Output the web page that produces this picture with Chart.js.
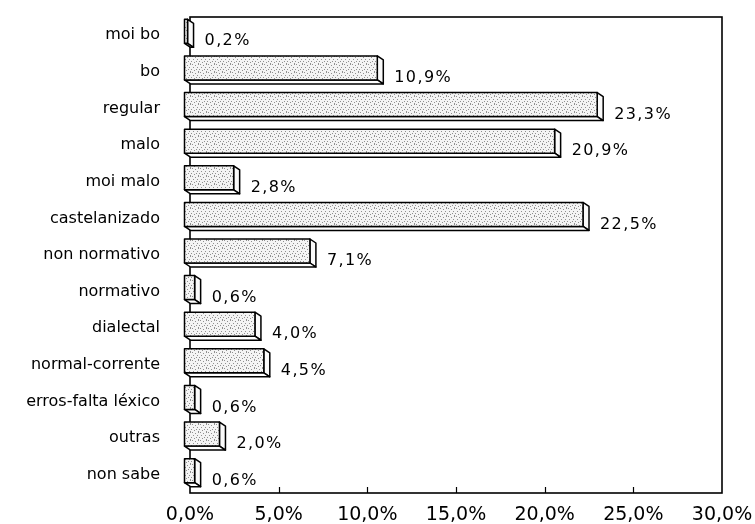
<!DOCTYPE html>
<html>
<head>
<meta charset="utf-8">
<script src="https://cdn.jsdelivr.net/npm/chart.js@4.4.1/dist/chart.umd.min.js"></script>
<style>
  html, body { margin: 0; padding: 0; background: #fff; }
  canvas { display: block; }
</style>
</head>
<body>
<canvas id="chart" width="755" height="524"></canvas>
<script>
// Datos
const categories = ['moi bo', 'bo', 'regular', 'malo', 'moi malo', 'castelanizado', 'non normativo',
    'normativo', 'dialectal', 'normal-corrente', 'erros-falta léxico', 'outras', 'non sabe'];
const values = [0.2, 10.9, 23.3, 20.9, 2.8, 22.5, 7.1, 0.6, 4.0, 4.5, 0.6, 2.0, 0.6];
const xMin = 0;
const xMax = 30;
const xStep = 5;

// profundidade do efecto 3D
const DX = 6, DY = 4;

function pct(v) { return Number(v).toFixed(1).replace('.', ',') + '%'; }

// textura punteada das barras
function makeStipple() {
    const c = document.createElement('canvas');
    c.width = 8; c.height = 8;
    const g = c.getContext('2d');
    g.fillStyle = '#f4f4f4';
    g.fillRect(0, 0, 8, 8);
    g.fillStyle = '#909090';
    const dots = [[0,0],[3,1],[6,0],[1,3],[5,3],[7,5],[2,6],[4,5],[6,7]];
    dots.forEach(d => g.fillRect(d[0], d[1], 1, 1));
    return c;
}
const stipple = makeStipple();

const bar3d = {
    id: 'bar3d',
    beforeDatasetsDraw(chart) {
        const ctx = chart.ctx;
        const a = chart.chartArea;
        const xs = chart.scales.x;
        ctx.save();
        ctx.strokeStyle = '#000';
        ctx.lineWidth = 1.6;
        ctx.strokeRect(a.left, a.top, a.right - a.left, a.bottom - a.top);
        // marcas cara dentro no eixo
        ctx.lineWidth = 1.2;
        for (let v = xMin + xStep; v < xMax; v += xStep) {
            const px = Math.round(xs.getPixelForValue(v)) + 0.5;
            ctx.beginPath();
            ctx.moveTo(px, a.bottom);
            ctx.lineTo(px, a.bottom - 6);
            ctx.stroke();
        }
        ctx.restore();
    },
    afterDatasetsDraw(chart) {
        const ctx = chart.ctx;
        const meta = chart.getDatasetMeta(0);
        const pattern = ctx.createPattern(stipple, 'repeat');
        ctx.save();
        ctx.strokeStyle = '#000';
        ctx.lineWidth = 1.5;
        ctx.lineJoin = 'round';
        meta.data.forEach((el, i) => {
            const p = el.getProps(['x', 'y', 'base', 'height'], true);
            const bl = p.base, br = p.x;
            const bt = p.y - p.height / 2, bb = p.y + p.height / 2;
            const fl = bl - DX, fr = br - DX, ft = bt - DY, fb = bb - DY;
            // cara lateral
            ctx.fillStyle = '#fafafa';
            ctx.beginPath();
            ctx.moveTo(fr, ft); ctx.lineTo(br, bt); ctx.lineTo(br, bb); ctx.lineTo(fr, fb);
            ctx.closePath(); ctx.fill(); ctx.stroke();
            // cara inferior
            ctx.fillStyle = '#ffffff';
            ctx.beginPath();
            ctx.moveTo(fl, fb); ctx.lineTo(fr, fb); ctx.lineTo(br, bb); ctx.lineTo(bl, bb);
            ctx.closePath(); ctx.fill(); ctx.stroke();
            // cara frontal
            ctx.fillStyle = pattern;
            ctx.fillRect(fl, ft, fr - fl, fb - ft);
            ctx.strokeRect(fl, ft, fr - fl, fb - ft);
            // etiqueta do valor
            ctx.fillStyle = '#000';
            ctx.font = '16px "DejaVu Sans"';
            ctx.letterSpacing = '1.4px';
            ctx.textAlign = 'left';
            ctx.textBaseline = 'middle';
            ctx.fillText(pct(values[i]), br + 11, p.y + 6);
            ctx.letterSpacing = '0px';
        });
        ctx.restore();
    }
};

new Chart(document.getElementById('chart'), {
    type: 'bar',
    data: {
        labels: categories,
        datasets: [{
            data: values,
            backgroundColor: 'rgba(0,0,0,0)',
            borderWidth: 0,
            barThickness: 24
        }]
    },
    options: {
        indexAxis: 'y',
        responsive: false,
        animation: false,
        layout: { padding: { left: 0, right: 33, top: 17, bottom: 0 } },
        plugins: {
            legend: { display: false },
            tooltip: { enabled: false }
        },
        scales: {
            x: {
                position: 'bottom',
                min: xMin,
                max: xMax,
                // marcas invisibles: só dan o espazo ata as etiquetas
                grid: { display: true, drawOnChartArea: false, drawTicks: true, tickLength: 11, color: 'rgba(0,0,0,0)' },
                border: { display: false },
                ticks: {
                    stepSize: xStep,
                    maxRotation: 0,
                    autoSkip: false,
                    color: '#000',
                    padding: 0,
                    font: { family: '"DejaVu Sans"', size: 19 },
                    callback: v => pct(v)
                },
                afterFit(scale) { scale.height = 31; }
            },
            y: {
                grid: { display: true, drawOnChartArea: false, drawTicks: true, tickLength: 30, color: 'rgba(0,0,0,0)' },
                border: { display: false },
                ticks: {
                    color: '#000',
                    padding: 0,
                    autoSkip: false,
                    font: { family: '"DejaVu Sans"', size: 16 }
                },
                afterFit(scale) { scale.width = 190; }
            }
        }
    },
    plugins: [bar3d]
});
</script>
</body>
</html>
